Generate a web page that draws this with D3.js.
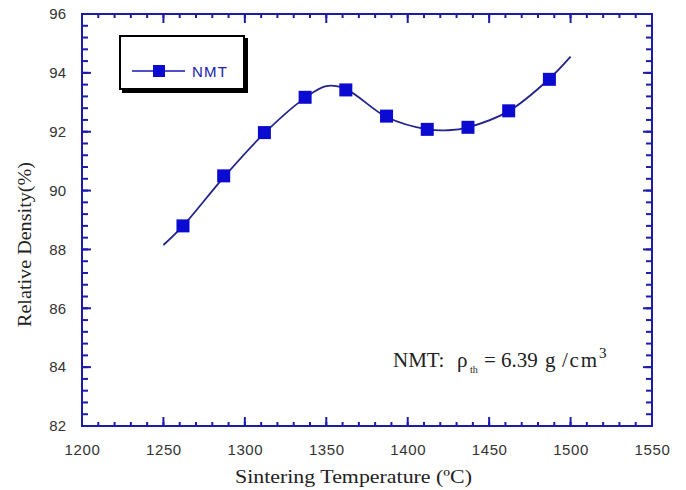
<!DOCTYPE html>
<html>
<head>
<meta charset="utf-8">
<script src="https://cdn.jsdelivr.net/npm/d3@7"></script>
<style>
  body { margin: 0; background: #fff; }
  svg { display: block; }
</style>
</head>
<body>
<svg width="686" height="490"></svg>
<script>
// measured points (sintering temperature, relative density)
const temps = [1262, 1287, 1312, 1337, 1362, 1387, 1412, 1437, 1462, 1487];
const density = [88.8, 90.5, 91.97, 93.17, 93.42, 92.53, 92.08, 92.15, 92.71, 93.78];

// fitted curve
const fitTemps = [1250, 1262, 1287, 1312, 1337, 1350, 1362, 1387, 1412, 1425, 1437, 1462, 1487, 1500];
const fitDensity = [88.15, 88.8, 90.45, 91.95, 93.15, 93.55, 93.45, 92.5, 92.08, 92.05, 92.15, 92.7, 93.8, 94.55];

const xTicks = [1200, 1250, 1300, 1350, 1400, 1450, 1500, 1550];
const yTicks = [82, 84, 86, 88, 90, 92, 94, 96];

const axisBlue = "#1c1caa";
const lineBlue = "#23238c";
const markBlue = "#0a0ad0";

const svg = d3.select("svg");
const pLeft = 82, pRight = 652, pTop = 14, pBottom = 426;

const x = d3.scaleLinear().domain([1200, 1550]).range([pLeft, pRight]);
const y = d3.scaleLinear().domain([82, 96]).range([pBottom, pTop]);

const xMinor = d3.range(1200, 1551, 10);
const yMinor = d3.range(82, 96.01, 0.4);

// ticks on all four sides, pointing inward
function tickSide(g, vals, scale, pos, len, horiz, dir) {
  g.selectAll(null).data(vals).enter().append("line")
    .attr("x1", d => horiz ? scale(d) : pos)
    .attr("x2", d => horiz ? scale(d) : pos + dir * len)
    .attr("y1", d => horiz ? pos : scale(d))
    .attr("y2", d => horiz ? pos + dir * len : scale(d))
    .attr("stroke", axisBlue)
    .attr("stroke-width", 2);
}
const tg = svg.append("g");
tickSide(tg, xMinor, x, pBottom, 4, true, -1);
tickSide(tg, xMinor, x, pTop, 4, true, 1);
tickSide(tg, xTicks, x, pBottom, 9, true, -1);
tickSide(tg, xTicks, x, pTop, 9, true, 1);
tickSide(tg, yMinor, y, pLeft, 6, false, 1);
tickSide(tg, yMinor, y, pRight, 6, false, -1);
tickSide(tg, yTicks, y, pLeft, 9, false, 1);
tickSide(tg, yTicks, y, pRight, 9, false, -1);

svg.append("rect")
  .attr("x", pLeft).attr("y", pTop)
  .attr("width", pRight - pLeft).attr("height", pBottom - pTop)
  .attr("fill", "none")
  .attr("stroke", axisBlue)
  .attr("stroke-width", 2);

// tick labels through d3 axes, with lines hidden
const xAxis = svg.append("g")
  .attr("transform", `translate(0,${pBottom})`)
  .call(d3.axisBottom(x).tickValues(xTicks).tickSize(0).tickPadding(18).tickFormat(d3.format("d")));
const yAxis = svg.append("g")
  .attr("transform", `translate(${pLeft},0)`)
  .call(d3.axisLeft(y).tickValues(yTicks).tickSize(0).tickPadding(16).tickFormat(d3.format("d")));
[xAxis, yAxis].forEach(g => {
  g.select(".domain").remove();
  g.selectAll("text")
    .attr("font-family", "Liberation Sans, Arial, sans-serif")
    .attr("font-size", 15)
    .attr("fill", "#333");
});
xAxis.selectAll("text").attr("letter-spacing", 0.6);

// fitted line
const fit = fitTemps.map((t, i) => ({ t, v: fitDensity[i] }));
svg.append("path")
  .datum(fit)
  .attr("fill", "none")
  .attr("stroke", lineBlue)
  .attr("stroke-width", 1.8)
  .attr("d", d3.line().x(d => x(d.t)).y(d => y(d.v)).curve(d3.curveCatmullRom.alpha(0.5)));

// markers
const pts = temps.map((t, i) => ({ t, v: density[i] }));
svg.selectAll("rect.pt")
  .data(pts)
  .enter()
  .append("rect")
  .attr("class", "pt")
  .attr("x", d => x(d.t) - 6.5)
  .attr("y", d => y(d.v) - 6.5)
  .attr("width", 13)
  .attr("height", 13)
  .attr("fill", markBlue);

// legend
const lg = svg.append("g");
lg.append("rect").attr("x", 122).attr("y", 38).attr("width", 126).attr("height", 55).attr("fill", "#000");
lg.append("rect").attr("x", 120).attr("y", 36).attr("width", 124).attr("height", 53)
  .attr("fill", "#fff").attr("stroke", "#000").attr("stroke-width", 2);
lg.append("line").attr("x1", 132).attr("x2", 185).attr("y1", 71).attr("y2", 71)
  .attr("stroke", "#5050c8").attr("stroke-width", 2);
lg.append("rect").attr("x", 153).attr("y", 65).attr("width", 12).attr("height", 12).attr("fill", markBlue);
lg.append("text").attr("x", 192).attr("y", 77)
  .attr("font-family", "Liberation Sans, Arial, sans-serif")
  .attr("font-size", 15).attr("fill", "#2020b0").attr("letter-spacing", 1.2)
  .text("NMT");

// annotation
const ann = svg.append("text")
  .attr("y", 367)
  .attr("font-family", "Liberation Serif, Times New Roman, serif")
  .attr("font-size", 21).attr("fill", "#222");
ann.append("tspan").attr("x", 393).text("NMT:");
ann.append("tspan").attr("x", 457).text("ρ");
ann.append("tspan").attr("x", 470).attr("dy", 6).attr("font-size", 10).text("th");
ann.append("tspan").attr("x", 484).attr("dy", -6).text("= 6.39");
ann.append("tspan").attr("x", 545).text("g");
ann.append("tspan").attr("x", 562).attr("textLength", 35).attr("lengthAdjust", "spacing").text("/cm");
ann.append("tspan").attr("x", 599).attr("dy", -9).attr("font-size", 15).text("3");

// axis titles
svg.append("text")
  .attr("x", 235).attr("y", 483)
  .attr("textLength", 237).attr("lengthAdjust", "spacingAndGlyphs")
  .attr("font-family", "Liberation Serif, Times New Roman, serif")
  .attr("font-size", 19).attr("fill", "#222")
  .text("Sintering Temperature (ºC)");
svg.append("text")
  .attr("transform", "translate(31,327) rotate(-90)")
  .attr("textLength", 165).attr("lengthAdjust", "spacingAndGlyphs")
  .attr("font-family", "Liberation Serif, Times New Roman, serif")
  .attr("font-size", 18).attr("fill", "#222")
  .text("Relative Density(%)");
</script>
</body>
</html>
